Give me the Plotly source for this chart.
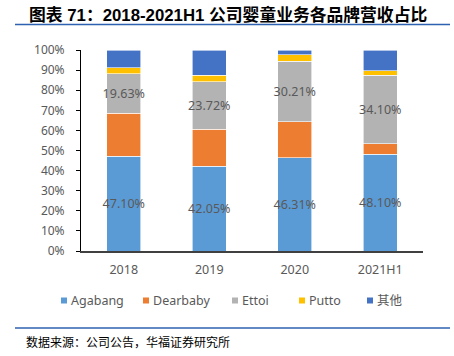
import plotly.graph_objects as go

categories = ["2018", "2019", "2020", "2021H1"]
agabang = [47.10, 42.05, 46.31, 48.10]
dearbaby = [21.4, 18.5, 18.0, 5.3]
ettoi = [19.63, 23.72, 30.21, 34.10]
putto = [3.1, 3.2, 3.0, 2.2]
others = [8.77, 12.53, 2.48, 10.30]
series_names = ["Agabang", "Dearbaby", "Ettoi", "Putto", "其他"]
colors = ["#5B9BD5", "#ED7D31", "#B3B3B3", "#FFC000", "#4472C4"]
y_ticks = [0, 10, 20, 30, 40, 50, 60, 70, 80, 90, 100]
y_tick_labels = [f"{v}%" for v in y_ticks]
labelled = {"Agabang": agabang, "Ettoi": ettoi}

W, H = 454, 356
L, R, T, B = 81, 423, 50, 251
FONT = "Noto Sans, Noto Sans CJK SC, sans-serif"
GRAY = "#595959"


def px(x):
    return (x - L) / (R - L)


def py(y):
    return (B - y) / (B - T)


fig = go.Figure()
for name, vals, col in zip(series_names, [agabang, dearbaby, ettoi, putto, others], colors):
    text = [f"{v:.2f}%" for v in vals] if name in labelled else None
    fig.add_trace(go.Bar(
        x=categories, y=vals, name=name,
        marker=dict(color=col, line=dict(color="white", width=0.6)),
        text=text, textposition="inside" if text else "none",
        insidetextanchor="middle", textangle=0, constraintext="none",
        textfont=dict(family=FONT, size=12.5, color=GRAY),
        cliponaxis=False, hoverinfo="skip",
        showlegend=False,
    ))

fig.update_layout(
    width=W, height=H,
    margin=dict(l=L, r=W - R, t=T, b=H - B),
    barmode="stack", bargap=0.6,
    plot_bgcolor="white", paper_bgcolor="white",
    uniformtext=dict(mode=False),
    font=dict(family=FONT, color=GRAY),
    xaxis=dict(showline=True, linecolor="#404040", linewidth=2,
               ticks="", tickfont=dict(size=12.5, color=GRAY),
               ticklabelstandoff=6),
    yaxis=dict(range=[0, 100], tickvals=y_ticks, ticktext=y_tick_labels,
               showline=True, linecolor="#000000", linewidth=1,
               ticks="outside", ticklen=4, tickcolor="#000000",
               showgrid=False, zeroline=False,
               tickfont=dict(size=12, color=GRAY), ticklabelstandoff=9),
)

# title
fig.add_annotation(xref="paper", yref="paper", x=px(27), y=py(15),
                   xanchor="left", yanchor="middle", showarrow=False,
                   text="<b>图表 71：2018-2021H1 公司婴童业务各品牌营收占比</b>",
                   font=dict(family="Liberation Sans, Noto Sans CJK SC", size=16.8, color="#000000"))
# separator lines
for yy in (24.5, 328):
    fig.add_shape(type="line", xref="paper", yref="paper",
                  x0=px(15), x1=px(450), y0=py(yy), y1=py(yy),
                  line=dict(color="#2E62B0", width=1.5))
# source
fig.add_annotation(xref="paper", yref="paper", x=px(24), y=py(341),
                   xanchor="left", yanchor="middle", showarrow=False,
                   text="数据来源：公司公告，华福证券研究所",
                   font=dict(family="Noto Sans CJK SC", size=12, color="#000000"))

# legend (manual)
legend_sq_x = [61, 143, 232, 299, 367]
for name, col, sx in zip(series_names, colors, legend_sq_x):
    fig.add_shape(type="rect", xref="paper", yref="paper",
                  x0=px(sx), x1=px(sx + 6), y0=py(297.5), y1=py(303.5),
                  fillcolor=col, line=dict(width=0))
    fig.add_annotation(xref="paper", yref="paper", x=px(sx + 8), y=py(300.5),
                       xanchor="left", yanchor="middle", showarrow=False,
                       text=name, font=dict(family=FONT, size=12.5, color=GRAY))

fig.write_html("out.html", config={"displayModeBar": False},
               post_script="document.body.style.margin='0';document.body.style.padding='0';")
